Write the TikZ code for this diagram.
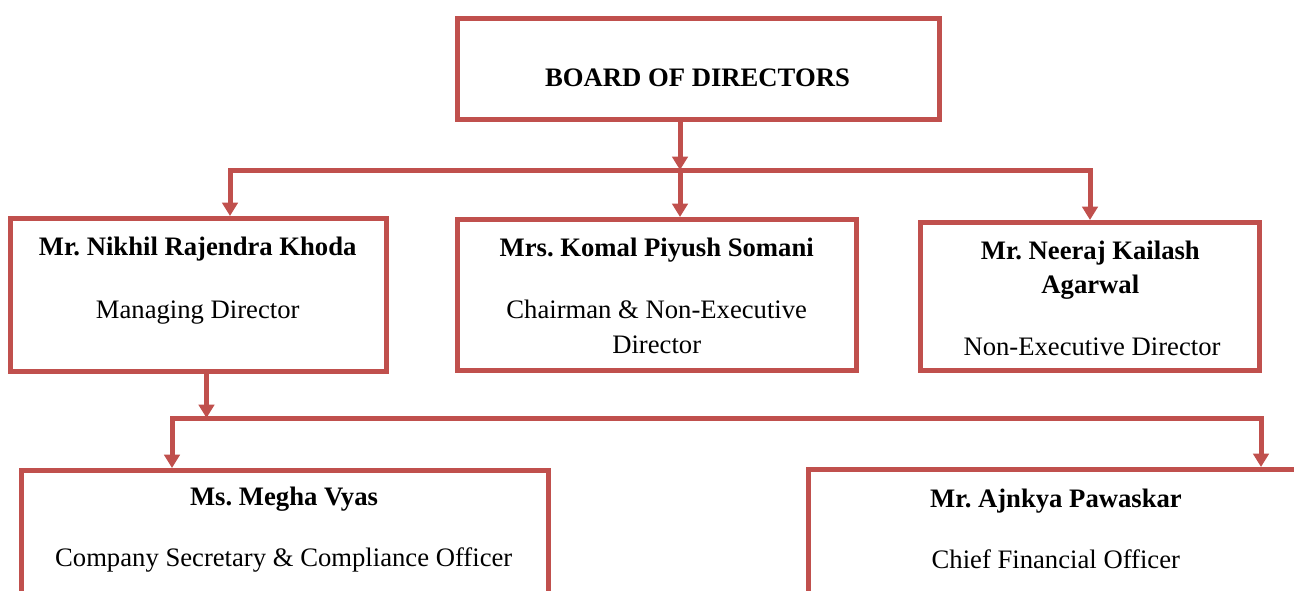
\documentclass[tikz,border=0pt]{standalone}
\usepackage{fontspec}
\setmainfont{Liberation Serif}
\usepackage{xcolor}
\usepackage{tikz}
\usetikzlibrary{arrows.meta}
\frenchspacing
\definecolor{frame}{HTML}{C0504D}
\definecolor{ink}{HTML}{000000}
\newlength\pxu
\setlength\pxu{0.75pt}
\tikzset{
  box/.style={draw=frame, line width=3.75pt, rectangle, inner sep=0pt, outer sep=1.875pt},
  link/.style={draw=frame, line width=3.75pt, -{Triangle[width=11.5pt,length=10pt]}},
  fork/.style={draw=frame, line width=3.75pt, {Triangle[width=11.5pt,length=10pt]}-{Triangle[width=11.5pt,length=10pt]}},
  who/.style={text=ink, font=\fontsize{20}{24}\selectfont\bfseries, anchor=base, inner sep=0pt},
  post/.style={text=ink, font=\fontsize{20}{24}\selectfont, anchor=base, inner sep=0pt},
}
\begin{document}
\begin{tikzpicture}[x=1\pxu, y=-1\pxu]
  \useasboundingbox (0,0) rectangle (1294,590);
  \clip (0,0) rectangle (1294,590);
  % boxes
  \node[box, minimum width=482\pxu, minimum height=101\pxu] (board) at (698.5,69) {};
  \node[box, minimum width=376.5\pxu, minimum height=153\pxu] (md) at (198.25,295) {};
  \node[box, minimum width=399\pxu, minimum height=151\pxu] (chair) at (657,295) {};
  \node[box, minimum width=339\pxu, minimum height=148\pxu] (ned) at (1090,296.5) {};
  \node[box, minimum width=527.5\pxu, minimum height=179.5\pxu] (cs) at (284.75,560.25) {};
  \node[box, minimum width=495.5\pxu, minimum height=180.5\pxu] (cfo) at (1056.25,559.75) {};
  % texts
  \node[who] (board-t) at (697.5,86) {BOARD OF DIRECTORS};
  \node[who] (md-name) at (197.7,255.7) {Mr. Nikhil Rajendra Khoda};
  \node[post] (md-role) at (197.7,318) {Managing Director};
  \node[who] (chair-name) at (656.7,256.7) {Mrs. Komal Piyush Somani};
  \node[post] (chair-role) at (656.7,318.3) {Chairman \& Non-Executive};
  \node[post] (chair-role2) at (656.7,353.3) {Director};
  \node[who] (ned-name) at (1090.3,259.3) {Mr. Neeraj Kailash};
  \node[who] (ned-name2) at (1090.3,293.3) {Agarwal};
  \node[post] (ned-role) at (1092,355) {Non-Executive Director};
  \node[who] (cs-name) at (284,505) {Ms. Megha Vyas};
  \node[post] (cs-role) at (283.7,566.7) {Company Secretary \& Compliance Officer};
  \node[who] (cfo-name) at (1056,507.3) {Mr. Ajnkya Pawaskar};
  \node[post] (cfo-role) at (1055.8,568.3) {Chief Financial Officer};
  % junctions
  \coordinate (top-j) at (680,170);
  \coordinate (md-j) at (230,170);
  \coordinate (ned-j) at (1090,170);
  \coordinate (low-j) at (206.5,418);
  \coordinate (cs-j) at (172,418);
  \coordinate (cfo-j) at (1261,418);
  % connectors
  \draw[link] (board.south -| top-j) -- (top-j);
  \draw[link] (top-j) -- (top-j |- chair.north);
  \draw[fork] (md.north -| md-j) -- (md-j) -- (ned-j) -- (ned.north -| ned-j);
  \draw[link] (md.south -| low-j) -- (low-j);
  \draw[fork] (cs.north -| cs-j) -- (cs-j) -- (cfo-j) -- (cfo.north -| cfo-j);
\end{tikzpicture}
\end{document}
